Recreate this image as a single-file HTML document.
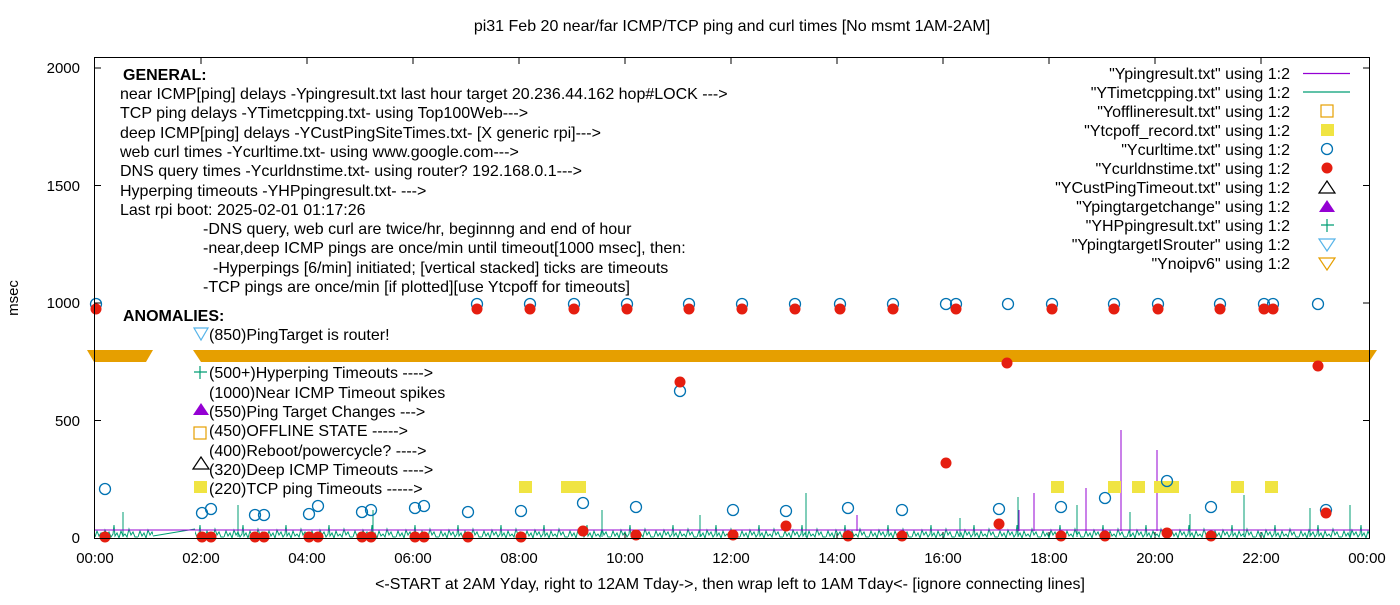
<!DOCTYPE html><html><head><style>body{margin:0;background:#fff}svg{font-family:"Liberation Sans",sans-serif}</style></head><body>
<svg width="1400" height="600" xmlns="http://www.w3.org/2000/svg">
<defs>
<circle id="b" r="5.5" fill="none" stroke="#0072b2" stroke-width="1.3"/>
<circle id="r" r="5.5" fill="#e51e10"/>
<rect id="y" x="-6" y="-6" width="13" height="12" fill="#f0e442"/>
<pattern id="nz" x="95" y="522" width="43" height="17" patternUnits="userSpaceOnUse">
<path d="M0 15L2 9L4 14L6 11L8 16L10 8L12 13L14 10L16 15L18 12L19 3L20 14L22 11L24 16L26 9L28 14L30 12L32 15L34 7L36 13L38 10L40 15L43 15" fill="none" stroke="#009e73" stroke-width="1"/>
</pattern>
</defs>
<rect width="1400" height="600" fill="#fff"/>
<text x="732" y="31" font-size="16" text-anchor="middle">pi31 Feb 20  near/far ICMP/TCP ping and curl times [No msmt 1AM-2AM]</text>
<g font-size="15" text-anchor="end">
<text x="80" y="543">0</text><text x="80" y="426">500</text><text x="80" y="308">1000</text><text x="80" y="191">1500</text><text x="80" y="73">2000</text></g>
<text transform="translate(18,298) rotate(-90)" font-size="15" text-anchor="middle">msec</text>
<g font-size="15" text-anchor="middle">
<text x="95" y="563">00:00</text><text x="201" y="563">02:00</text><text x="307" y="563">04:00</text><text x="413" y="563">06:00</text><text x="519" y="563">08:00</text><text x="625" y="563">10:00</text><text x="731" y="563">12:00</text><text x="837" y="563">14:00</text><text x="943" y="563">16:00</text><text x="1049" y="563">18:00</text><text x="1155" y="563">20:00</text><text x="1261" y="563">22:00</text><text x="1367" y="563">00:00</text>
</g>
<text x="730" y="589" font-size="16" text-anchor="middle">&lt;-START at 2AM Yday, right to 12AM Tday-&gt;, then wrap left to 1AM Tday&lt;- [ignore connecting lines]</text>
<g stroke="#000">
<path d="M201 538v-6M307 538v-6M413 538v-6M519 538v-6M625 538v-6M731 538v-6M837 538v-6M943 538v-6M1049 538v-6M1155 538v-6M1261 538v-6M201 58v6M307 58v6M413 58v6M519 58v6M625 58v6M731 58v6M837 58v6M943 58v6M1049 58v6M1155 58v6M1261 58v6"/>
<path d="M95 420.5h6M95 303h6M95 185.5h6M95 68h6M1369 420.5h-6M1369 303h-6M1369 185.5h-6M1369 68h-6"/>
</g>
<!-- orange band -->
<path d="M87 350h66l-7 12h-52z" fill="#e69f00"/>
<path d="M193 350h1184l-8 12h-1168z" fill="#e69f00"/>
<!-- green noise -->
<rect x="95" y="522" width="58" height="17" fill="url(#nz)"/>
<rect x="195" y="522" width="1174" height="17" fill="url(#nz)"/>
<path d="M153 536L195 529" stroke="#009e73"/>
<g stroke="#009e73">
<path d="M123 537V512M238 537V505M373 537V510M602 537V510M806 537V493M1018 537V497M1077 537V505M1244 537V495M1350 537V505M1310 537V508M700 537V515M960 537V518M1130 537V512M1190 537V514"/>
</g>
<path d="M95 530H1369" stroke="#9400d3"/>
<g stroke="#9400d3"><path d="M1121 531V430M1157 531V450M1086 531V488M1034 531V493M857 531V515M1019 531V510"/></g>
<!-- yellow -->
<use href="#y" x="525" y="487"/><use href="#y" x="567" y="487"/><use href="#y" x="579" y="487"/><use href="#y" x="1057" y="487"/><use href="#y" x="1114" y="487"/><use href="#y" x="1138" y="487"/><use href="#y" x="1160" y="487"/><use href="#y" x="1172" y="487"/><use href="#y" x="1237" y="487"/><use href="#y" x="1271" y="487"/>
<!-- blue 1000 -->
<g>
<use href="#b" x="96" y="304"/><use href="#b" x="477" y="304"/><use href="#b" x="530" y="304"/><use href="#b" x="574" y="304"/><use href="#b" x="627" y="304"/><use href="#b" x="689" y="304"/><use href="#b" x="742" y="304"/><use href="#b" x="795" y="304"/><use href="#b" x="840" y="304"/><use href="#b" x="893" y="304"/><use href="#b" x="946" y="304"/><use href="#b" x="956" y="304"/><use href="#b" x="1008" y="304"/><use href="#b" x="1052" y="304"/><use href="#b" x="1114" y="304"/><use href="#b" x="1158" y="304"/><use href="#b" x="1220" y="304"/><use href="#b" x="1264" y="304"/><use href="#b" x="1273" y="304"/><use href="#b" x="1318" y="304"/>
<use href="#r" x="96" y="309"/><use href="#r" x="477" y="309"/><use href="#r" x="530" y="309"/><use href="#r" x="574" y="309"/><use href="#r" x="627" y="309"/><use href="#r" x="689" y="309"/><use href="#r" x="742" y="309"/><use href="#r" x="795" y="309"/><use href="#r" x="840" y="309"/><use href="#r" x="893" y="309"/><use href="#r" x="956" y="309"/><use href="#r" x="1052" y="309"/><use href="#r" x="1114" y="309"/><use href="#r" x="1158" y="309"/><use href="#r" x="1220" y="309"/><use href="#r" x="1264" y="309"/><use href="#r" x="1273" y="309"/>
<use href="#r" x="1007" y="363"/><use href="#r" x="1318" y="366"/><use href="#b" x="680" y="391"/><use href="#r" x="680" y="382"/><use href="#r" x="946" y="463"/>
<use href="#b" x="105" y="489"/><use href="#b" x="202" y="513"/><use href="#b" x="211" y="509"/><use href="#b" x="255" y="515"/><use href="#b" x="264" y="515"/><use href="#b" x="309" y="514"/><use href="#b" x="318" y="506"/><use href="#b" x="362" y="512"/><use href="#b" x="371" y="510"/><use href="#b" x="415" y="508"/><use href="#b" x="424" y="506"/><use href="#b" x="468" y="512"/><use href="#b" x="521" y="511"/><use href="#b" x="583" y="503"/><use href="#b" x="636" y="507"/><use href="#b" x="733" y="510"/><use href="#b" x="786" y="511"/><use href="#b" x="848" y="508"/><use href="#b" x="902" y="510"/><use href="#b" x="999" y="509"/><use href="#b" x="1061" y="507"/><use href="#b" x="1105" y="498"/><use href="#b" x="1167" y="481"/><use href="#b" x="1211" y="507"/><use href="#b" x="1326" y="510"/>
<use href="#r" x="105" y="537"/><use href="#r" x="202" y="537"/><use href="#r" x="211" y="537"/><use href="#r" x="255" y="537"/><use href="#r" x="264" y="537"/><use href="#r" x="309" y="537"/><use href="#r" x="318" y="537"/><use href="#r" x="362" y="537"/><use href="#r" x="371" y="537"/><use href="#r" x="415" y="537"/><use href="#r" x="424" y="537"/><use href="#r" x="468" y="537"/><use href="#r" x="521" y="537"/><use href="#r" x="583" y="531"/><use href="#r" x="636" y="535"/><use href="#r" x="733" y="535"/><use href="#r" x="786" y="526"/><use href="#r" x="848" y="536"/><use href="#r" x="902" y="536"/><use href="#r" x="999" y="524"/><use href="#r" x="1061" y="536"/><use href="#r" x="1105" y="536"/><use href="#r" x="1167" y="533"/><use href="#r" x="1211" y="536"/><use href="#r" x="1326" y="513"/>
</g>
<rect x="94.5" y="57.5" width="1275" height="481" fill="none" stroke="#000"/>
<g font-size="16">
<text x="123" y="80" font-weight="bold">GENERAL:</text>
<text x="120" y="99">near ICMP[ping] delays -Ypingresult.txt last hour target 20.236.44.162 hop#LOCK ---&gt;</text>
<text x="120" y="118">TCP ping delays -YTimetcpping.txt- using Top100Web---&gt;</text>
<text x="120" y="138">deep ICMP[ping] delays -YCustPingSiteTimes.txt- [X generic rpi]---&gt;</text>
<text x="120" y="157">web curl times -Ycurltime.txt- using www.google.com---&gt;</text>
<text x="120" y="176">DNS query times -Ycurldnstime.txt- using router? 192.168.0.1---&gt;</text>
<text x="120" y="196">Hyperping timeouts -YHPpingresult.txt- ---&gt;</text>
<text x="120" y="215">Last rpi boot: 2025-02-01 01:17:26</text>
<text x="203" y="234">-DNS query, web curl are twice/hr, beginnng and end of hour</text>
<text x="203" y="253">-near,deep ICMP pings are once/min until timeout[1000 msec], then:</text>
<text x="213" y="273">-Hyperpings [6/min] initiated; [vertical stacked] ticks are timeouts</text>
<text x="203" y="292">-TCP pings are once/min [if plotted][use Ytcpoff for timeouts]</text>
<text x="123" y="321" font-weight="bold">ANOMALIES:</text>
<text x="209" y="340">(850)PingTarget is router!</text>
<text x="209" y="378">(500+)Hyperping Timeouts ----&gt;</text>
<text x="209" y="398">(1000)Near ICMP Timeout spikes</text>
<text x="209" y="417">(550)Ping Target Changes ---&gt;</text>
<text x="209" y="436">(450)OFFLINE STATE -----&gt;</text>
<text x="209" y="456">(400)Reboot/powercycle? ----&gt;</text>
<text x="209" y="475">(320)Deep ICMP Timeouts ----&gt;</text>
<text x="209" y="494">(220)TCP ping Timeouts -----&gt;</text>
</g>
<g stroke-width="1.2" fill="none">
<path d="M194 328h14l-7 12z" stroke="#56b4e9"/>
<path d="M200 366v13M194 372h13" stroke="#009e73"/>
<path d="M193 415l8-12 8 12z" fill="#9400d3"/>
<rect x="194" y="427" width="12" height="12" stroke="#e69f00"/>
<path d="M193 469l8-12 8 12z" stroke="#000"/>
<rect x="194" y="481" width="13" height="12" fill="#f0e442" stroke="none"/>
</g>
<g font-size="16" text-anchor="end">
<text x="1290" y="79">"Ypingresult.txt" using 1:2</text>
<text x="1290" y="98">"YTimetcpping.txt" using 1:2</text>
<text x="1290" y="117">"Yofflineresult.txt" using 1:2</text>
<text x="1290" y="136">"Ytcpoff_record.txt" using 1:2</text>
<text x="1290" y="155">"Ycurltime.txt" using 1:2</text>
<text x="1290" y="174">"Ycurldnstime.txt" using 1:2</text>
<text x="1290" y="193">"YCustPingTimeout.txt" using 1:2</text>
<text x="1290" y="212">"Ypingtargetchange" using 1:2</text>
<text x="1290" y="231">"YHPpingresult.txt" using 1:2</text>
<text x="1290" y="250">"YpingtargetISrouter" using 1:2</text>
<text x="1290" y="269">"Ynoipv6" using 1:2</text>
</g>
<g stroke-width="1.2" fill="none">
<path d="M1303 73.5h47" stroke="#9400d3"/>
<path d="M1303 92h47" stroke="#009e73"/>
<rect x="1321" y="105" width="12" height="12" stroke="#e69f00"/>
<rect x="1321" y="124" width="13" height="12" fill="#f0e442" stroke="none"/>
<circle cx="1327" cy="149" r="5.5" stroke="#0072b2" stroke-width="1.3"/>
<circle cx="1327" cy="168" r="5.5" fill="#e51e10"/>
<path d="M1319 193l8-12 8 12z" stroke="#000"/>
<path d="M1319 212l8-12 8 12z" fill="#9400d3"/>
<path d="M1327 219v13M1321 225h13" stroke="#009e73"/>
<path d="M1319 239h16l-8 12z" stroke="#56b4e9"/>
<path d="M1319 258h16l-8 12z" stroke="#e69f00"/>
</g>
</svg></body></html>
